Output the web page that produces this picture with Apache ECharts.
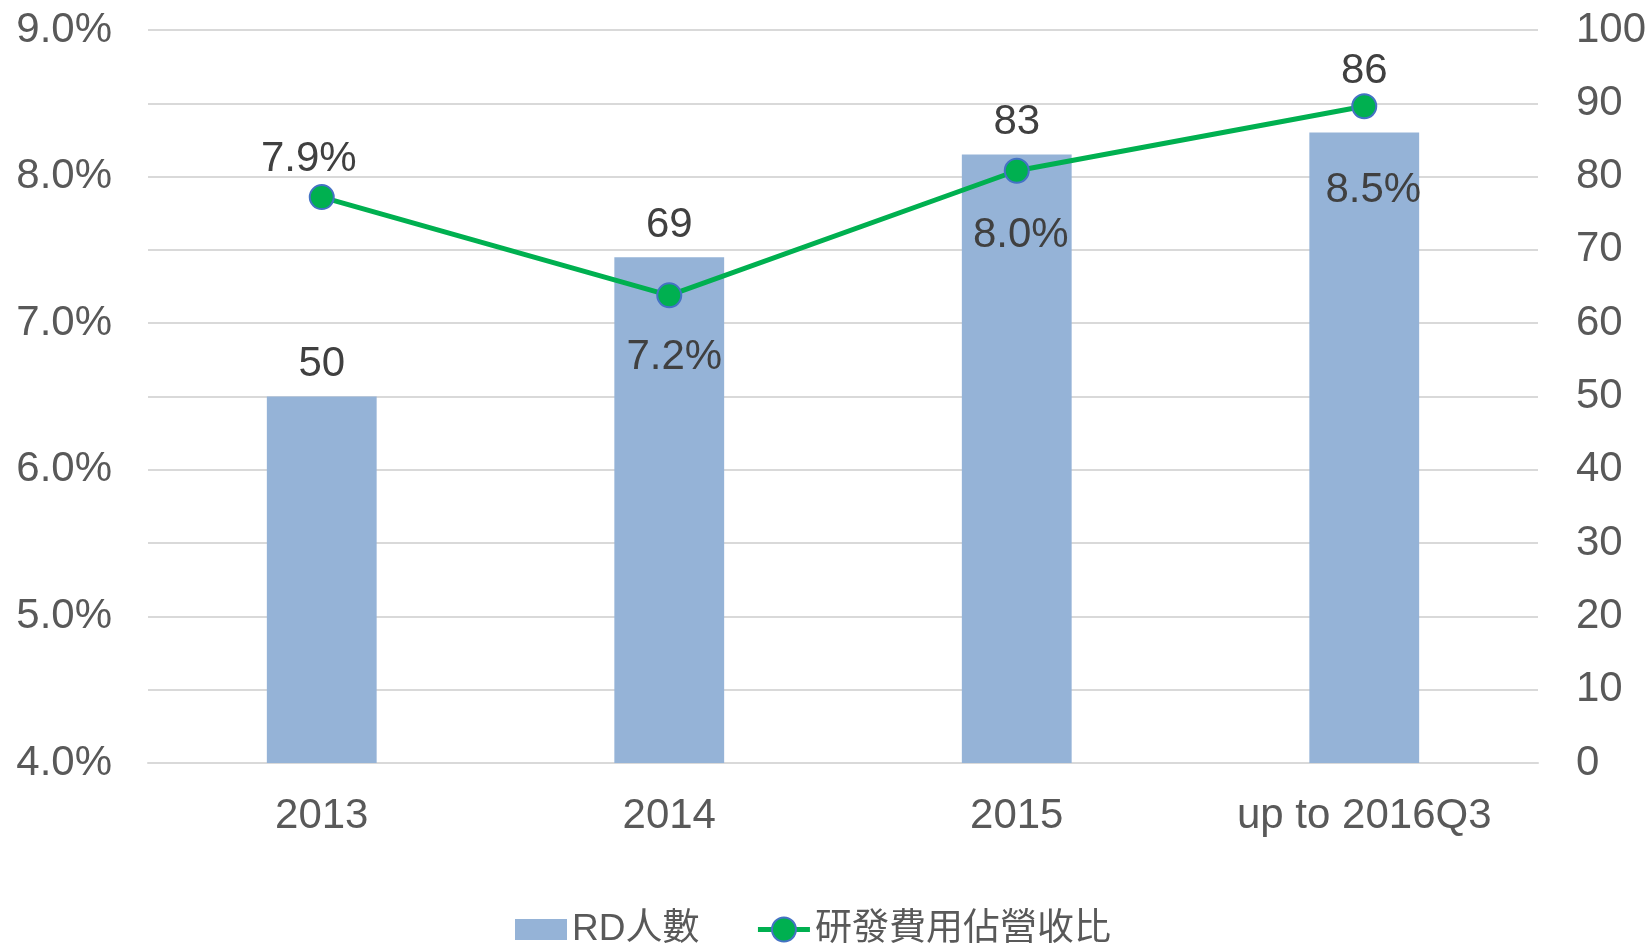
<!DOCTYPE html>
<html>
<head>
<meta charset="utf-8">
<title>RD</title>
<script src="https://cdn.jsdelivr.net/npm/echarts@6/dist/echarts.min.js"></script>
<style>
  html, body { margin: 0; padding: 0; background: #fff; }
  #chart { width: 1650px; height: 948px; }
</style>
</head>
<body>
<div id="chart"></div>
<script>
  // data
  const categories = ['2013', '2014', '2015', 'up to 2016Q3']
  const rdCount = [50, 69, 83, 86]
  const rdRatio = [7.86, 7.19, 8.04, 8.48]
  const leftTicks = [4, 5, 6, 7, 8, 9]

  // label tweaks (styling only)
  const barLabelDist = [11, 11, 11, 40]
  const ratioLabelPos = ['top', 'bottom', 'bottom', 'bottom']
  const ratioLabelDist = [4, 28, 31, 50]
  const ratioLabelDx = [-13, 5, 4, 9]

  const font = "'Liberation Sans', Arial, 'Noto Sans CJK TC', sans-serif"
  const colors = ['#95B3D7', '#00B050']

  const chart = echarts.init(document.getElementById('chart'))
  chart.setOption({
    animation: false,
    color: colors,
    textStyle: { fontFamily: font },
    grid: { left: 148, right: 112, top: 30, bottom: 185 },
    legend: {
      left: 510,
      top: 906,
      itemGap: 56,
      itemWidth: 52,
      itemHeight: 30,
      symbolKeepAspect: true,
      textStyle: { fontSize: 37, color: '#595959', fontFamily: font },
      data: [
        {
          name: 'RD人數',
          icon: 'path://M0,0H52V21H0Z',
          itemStyle: { color: colors[0] }
        },
        {
          name: '研發費用佔營收比',
          lineStyle: { width: 5, color: colors[1] }
        }
      ]
    },
    xAxis: {
      type: 'category',
      data: categories,
      axisTick: { show: false },
      axisLine: { lineStyle: { color: '#D9D9D9', width: 2 } },
      axisLabel: { fontSize: 42, color: '#595959', margin: 32 }
    },
    yAxis: [
      {
        type: 'value',
        min: leftTicks[0],
        max: leftTicks[leftTicks.length - 1],
        interval: 1,
        position: 'left',
        splitLine: { show: false },
        axisLine: { show: false },
        axisTick: { show: false },
        axisLabel: {
          fontSize: 42,
          color: '#595959',
          margin: 36,
          formatter: v => v.toFixed(1) + '%'
        }
      },
      {
        type: 'value',
        min: 0,
        max: 100,
        interval: 10,
        position: 'right',
        splitLine: { lineStyle: { color: '#D9D9D9', width: 2 } },
        axisLine: { show: false },
        axisTick: { show: false },
        axisLabel: { fontSize: 42, color: '#595959', margin: 38 }
      }
    ],
    series: [
      {
        name: 'RD人數',
        type: 'bar',
        yAxisIndex: 1,
        barWidth: '31.6%',
        itemStyle: { color: colors[0] },
        z: 1,
        data: rdCount.map((v, i) => ({
          value: v,
          label: {
            show: true,
            position: 'top',
            distance: barLabelDist[i],
            fontSize: 42,
            color: '#404040'
          }
        }))
      },
      {
        name: '研發費用佔營收比',
        type: 'line',
        yAxisIndex: 0,
        symbol: 'circle',
        symbolSize: 24,
        z: 3,
        lineStyle: { color: colors[1], width: 5 },
        itemStyle: { color: colors[1], borderColor: '#4472C4', borderWidth: 2 },
        data: rdRatio.map((v, i) => ({
          value: v,
          label: {
            show: true,
            position: ratioLabelPos[i],
            distance: ratioLabelDist[i],
            offset: [ratioLabelDx[i], 0],
            fontSize: 42,
            color: '#404040',
            formatter: p => p.value.toFixed(1) + '%'
          }
        }))
      }
    ]
  })
</script>
</body>
</html>
